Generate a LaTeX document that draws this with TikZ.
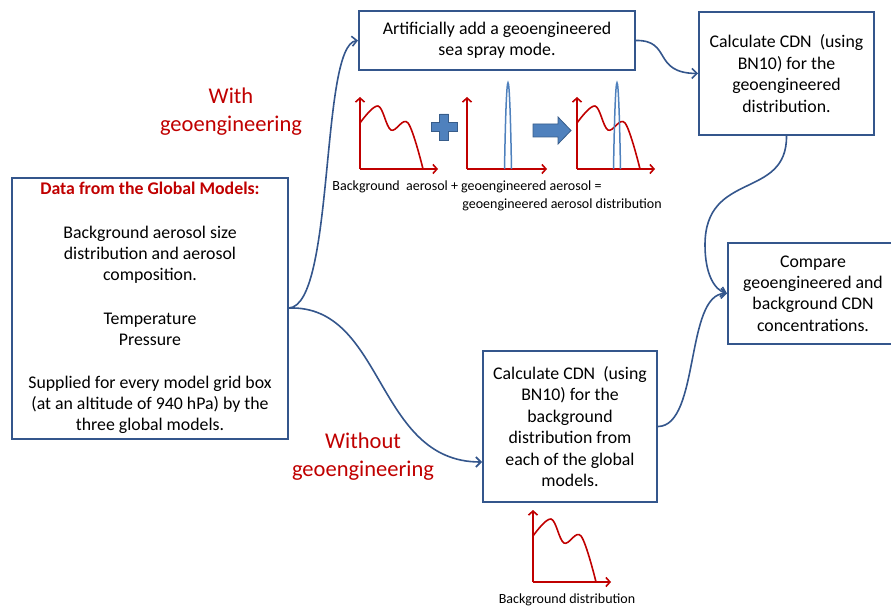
\documentclass[tikz,border=0pt]{standalone}
\usepackage{fontspec}
\setmainfont{Carlito}
\usetikzlibrary{arrows.meta}
\definecolor{boxblue}{RGB}{52,86,140}
\definecolor{dred}{RGB}{192,0,0}
\definecolor{lblue}{RGB}{79,129,189}
\definecolor{dblue}{RGB}{56,93,138}
\tikzset{
  box/.style={draw=boxblue, line width=2pt, rectangle, inner sep=0pt, align=center, font=\fontsize{17.8}{21.4}\selectfont},
  conn/.style={draw=boxblue, line width=1.6pt, -{Straight Barb[length=5pt,width=10pt]}},
  lab/.style={text=dred, align=center, font=\fontsize{22.5}{28}\selectfont},
  captxt/.style={font=\fontsize{14}{16}\selectfont, inner sep=0pt},
  axis/.style={draw=dred, line width=1.6pt, -{Straight Barb[length=4pt,width=9pt]}},
  curve/.style={draw=dred, line width=1.6pt},
  spike/.style={draw=lblue, line width=1.5pt},
  dist/.pic={
    \draw[axis] (0,0) -- (0,-72);
    \draw[axis] (0,0) -- (78,0);
    \draw[curve] plot[smooth, tension=0.6] coordinates {(0,-46) (18,-63) (31,-39) (48,-46) (63,0)};
  },
  spk/.pic={
    \draw[spike] (-3.5,0) .. controls (-1.5,-115) and (1.5,-115) .. (3.5,0);
  }
}
\begin{document}
\begin{tikzpicture}[x=1pt,y=-1pt]
\useasboundingbox (0,0) rectangle (891,607);
\clip (0,0) rectangle (891,607);

% boxes
\node[box, minimum width=276pt, minimum height=261pt] (L) at (150,308)
  {\textcolor{dred}{\textbf{Data from the Global Models:}}\\[22pt]
   Background aerosol size\\distribution and aerosol\\composition.\\[22pt]
   Temperature\\Pressure\\[21pt]
   Supplied for every model grid box\\(at an altitude of 940 hPa) by the\\three global models.};
\node[box, minimum width=276pt, minimum height=59pt] (T) at (497,40.5)
  {Artificially add a geoengineered\\sea spray mode.};
\node[box, minimum width=175pt, minimum height=123pt] (R) at (786.5,73.5)
  {Calculate CDN\ \ (using\\BN10) for the\\geoengineered\\distribution.};
\node[box, minimum width=170pt, minimum height=101pt] (C) at (813,293.5)
  {Compare\\geoengineered and\\background CDN\\concentrations.};
\node[box, minimum width=174pt, minimum height=151pt] (B) at (570,426.5)
  {Calculate CDN\ \ (using\\BN10) for the\\background\\distribution from\\each of the global\\models.};

% labels
\node[lab] (w1) at (231,112) {With\\geoengineering};
\node[lab] (w2) at (363,457) {Without\\geoengineering};

% connectors
\draw[conn] (L.east) .. controls (335,305) and (320,45) .. (T.west);
\draw[conn] (L.east) .. controls (385,305) and (375,462) .. ([yshift=-35.5pt]B.west);
\draw[conn] (T.east) .. controls (672,40) and (652,73) .. (R.west);
\draw[conn] (R.south) .. controls (787,200) and (705,170) .. (705,245) .. controls (705,275) and (715,290) .. (C.west);
\draw[conn] (B.east) .. controls (700,426) and (685,293) .. (C.west);

% charts
\pic at (360,169) {dist};
\draw[axis] (467,169) -- (467,97);
\draw[axis] (467,169) -- (547,169);
\pic at (508,169) {spk};
\pic at (577,169) {dist};
\pic at (617,169) {spk};
\pic at (533,582) {dist};

% plus sign
\fill[lblue, draw=dblue, line width=0.8pt]
  (439.5,114) -- (448.5,114) -- (448.5,122.5) -- (457,122.5) -- (457,131.5) -- (448.5,131.5) -- (448.5,140)
  -- (439.5,140) -- (439.5,131.5) -- (431,131.5) -- (431,122.5) -- (439.5,122.5) -- cycle;
% block arrow
\fill[lblue, draw=dblue, line width=0.8pt]
  (533,124) -- (558,124) -- (558,117) -- (571,130.5) -- (558,144) -- (558,137) -- (533,137) -- cycle;

% captions
\node[captxt] (c1) at (467,187) {Background\ \ aerosol + geoengineered aerosol =};
\node[captxt] (c2) at (562,205) {geoengineered aerosol distribution};
\node[captxt] (c3) at (567,600) {Background distribution};
\end{tikzpicture}
\end{document}
